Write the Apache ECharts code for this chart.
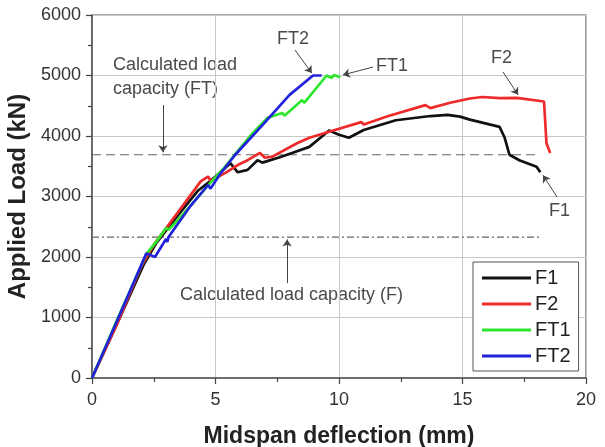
<!DOCTYPE html>
<html>
<head>
<meta charset="utf-8">
<script src="https://cdn.jsdelivr.net/npm/echarts@6/dist/echarts.min.js"></script>
<style>
  html, body { margin: 0; padding: 0; background: #fff; }
  #chart { width: 605px; height: 447px; }
</style>
</head>
<body>
<div id="chart"></div>
<script>
// deflection (mm), load (kN) pairs
var seriesNames = ["F1", "F2", "FT1", "FT2"]

var dataF1 = [
    [0, 0], [1, 880], [2.1, 1880], [2.6, 2230], [3.5, 2700], [4.3, 3100], [4.8, 3260],
    [5.2, 3400], [5.6, 3550], [5.9, 3400], [6.3, 3440], [6.7, 3600], [6.9, 3560],
    [7.6, 3650], [8.1, 3720], [8.8, 3820], [9.6, 4090], [10.0, 4020], [10.4, 3970],
    [11.0, 4100], [12.3, 4260], [13.7, 4330], [14.4, 4350], [14.9, 4320], [15.3, 4270],
    [16.5, 4150], [16.7, 3980], [16.9, 3690], [17.3, 3600], [18.0, 3490], [18.15, 3400]
]
var dataF2 = [
    [0, 0], [1, 880], [2, 1850], [2.5, 2200], [3.5, 2750], [4.4, 3250], [4.7, 3330],
    [4.8, 3260], [5.4, 3390], [5.9, 3520], [6.3, 3600], [6.8, 3720], [7.0, 3640],
    [7.3, 3660], [8.3, 3880], [8.8, 3970], [9.6, 4070], [10.9, 4230], [11.0, 4190],
    [12.0, 4330], [13.5, 4510], [13.7, 4460], [14.5, 4550], [15.3, 4620], [15.8, 4645],
    [16.5, 4625], [17.2, 4630], [18.3, 4570], [18.4, 3880], [18.55, 3720]
]
var dataFT1 = [
    [0, 0], [1, 950], [2.2, 2050], [2.6, 2250], [3.0, 2480], [3.1, 2450], [3.5, 2620],
    [4.2, 2950], [4.8, 3230], [5.3, 3450], [5.8, 3700], [6.4, 4000], [7.1, 4300],
    [7.7, 4380], [7.8, 4340], [8.5, 4590], [8.6, 4550], [9.5, 5000], [9.7, 4960],
    [9.8, 5010], [10.05, 4970]
]
var dataFT2 = [
    [0, 0], [1, 930], [2.2, 2060], [2.55, 2000], [3.0, 2300], [3.05, 2250], [3.1, 2330],
    [4.0, 2850], [4.7, 3190], [4.8, 3130], [5.2, 3380], [5.8, 3690], [6.9, 4180],
    [8.0, 4680], [8.95, 5000], [9.3, 5000]
]

// calculated load capacity lines
var capacityFT = [[0, 3690], [18.1, 3690]]
var capacityF = [[0, 2330], [18.1, 2330]]

var xTicks = [0, 5, 10, 15, 20]
var yTicks = [0, 1000, 2000, 3000, 4000, 5000, 6000]

// annotation arrows: [from, to] in data units
var arrows = [
    [[2.87, 4510], [2.87, 3730]],
    [[7.9, 1570], [7.9, 2290]],
    [[8.22, 5420], [8.9, 5040]],
    [[11.38, 5140], [10.16, 5010]],
    [[16.64, 5060], [17.25, 4680]],
    [[18.83, 2990], [18.26, 3350]]
]

var chart = echarts.init(document.getElementById("chart"))
var font = "'Liberation Sans', Arial, sans-serif"

function lineSeries(name, data, color) {
    return {
        name: name,
        type: "line",
        data: data,
        symbol: "none",
        lineStyle: { color: color, width: 2.7 },
        itemStyle: { color: color },
        z: 3
    }
}

function annotText(x, y, text) {
    return {
        type: "text",
        left: x,
        top: y,
        style: { text: text, fill: "#4a4a4a", font: "18px " + font }
    }
}

var option = {
    animation: false,
    textStyle: { fontFamily: font },
    grid: {
        left: 92, right: 19, top: 15, bottom: 69,
        containLabel: false,
        outerBoundsMode: "none",
        show: true, borderColor: "#555", borderWidth: 1.2
    },
    xAxis: {
        type: "value",
        min: xTicks[0], max: xTicks[xTicks.length - 1], interval: 5,
        name: "Midspan deflection (mm)",
        nameLocation: "middle",
        nameGap: 47,
        nameTextStyle: { fontSize: 23, fontWeight: "bold", color: "#222" },
        axisLine: { lineStyle: { color: "#555", width: 1.5 } },
        axisTick: { show: true, length: 6, lineStyle: { color: "#444", width: 1.2 } },
        minorTick: { show: true, splitNumber: 2, length: 4, lineStyle: { color: "#444", width: 1.2 } },
        axisLabel: { fontSize: 18, color: "#333", margin: 13 },
        splitLine: { lineStyle: { color: "#c8c8c8" } }
    },
    yAxis: {
        type: "value",
        min: yTicks[0], max: yTicks[yTicks.length - 1], interval: 1000,
        name: "Applied Load (kN)",
        nameLocation: "middle",
        nameGap: 62,
        nameTextStyle: { fontSize: 24, fontWeight: "bold", color: "#222" },
        axisLine: { show: true, lineStyle: { color: "#555", width: 1.5 } },
        axisTick: { show: true, length: 6, lineStyle: { color: "#444", width: 1.2 } },
        minorTick: { show: true, splitNumber: 2, length: 4, lineStyle: { color: "#444", width: 1.2 } },
        axisLabel: { fontSize: 18, color: "#333", margin: 11, formatter: function (v) { return String(v) } },
        splitLine: { lineStyle: { color: "#c8c8c8" } }
    },
    legend: {
        data: seriesNames,
        orient: "vertical",
        left: 473, top: 262,
        padding: [6, 8, 5, 9],
        itemGap: 6,
        itemWidth: 49, itemHeight: 3,
        icon: "rect",
        borderColor: "#555", borderWidth: 1,
        backgroundColor: "#fff",
        textStyle: { fontSize: 20, color: "#222", padding: [0, 0, 0, -1] }
    },
    series: [
        {
            name: "capFT",
            type: "line",
            data: capacityFT,
            symbol: "none",
            lineStyle: { color: "#666", width: 1.2, type: [9, 5] },
            z: 2
        },
        {
            name: "capF",
            type: "line",
            data: capacityF,
            symbol: "none",
            lineStyle: { color: "#666", width: 1.2, type: [7, 3, 2, 3] },
            z: 2,
            markLine: {
                silent: true,
                symbol: ["none", "arrow"],
                symbolSize: 7,
                label: { show: false },
                lineStyle: { color: "#444", width: 1, type: "solid" },
                data: arrows.map(function (a) {
                    return [{ coord: a[0] }, { coord: a[1] }]
                })
            }
        },
        lineSeries("F1", dataF1, "#111111"),
        lineSeries("F2", dataF2, "#ee2a2a"),
        lineSeries("FT1", dataFT1, "#2ee62e"),
        lineSeries("FT2", dataFT2, "#2222dd")
    ],
    graphic: [
        annotText(113, 56, "Calculated load"),
        annotText(113, 80, "capacity (FT)"),
        annotText(180, 286, "Calculated load capacity (F)"),
        annotText(277, 30, "FT2"),
        annotText(376, 57, "FT1"),
        annotText(491, 49, "F2"),
        annotText(549, 202, "F1")
    ]
}

chart.setOption(option)
</script>
</body>
</html>
